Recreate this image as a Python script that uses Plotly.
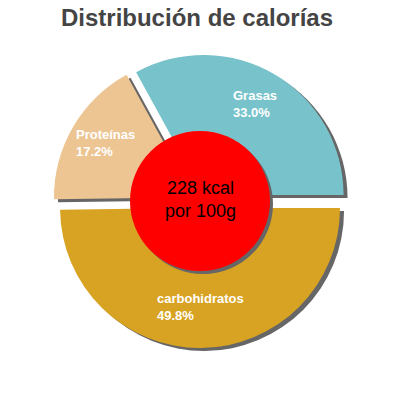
import math
import plotly.graph_objects as go

# data
labels = ["Grasas", "carbohidratos", "Proteínas"]
values = [33.0, 49.8, 17.2]
colors = ["#78c3cb", "#d8a323", "#ecc593"]
kcal = 228

W = 400
H = 400

# pie geometry in pixels
cx, cy = 200, 201
pull = 0.05
radius = 140
half = radius * (1 + pull)
shadow_dx, shadow_dy = 4, 3


def dom(x, y):
    return dict(x=[(x - half) / W, (x + half) / W],
                y=[(H - y - half) / H, (H - y + half) / H])


def px(x, y):
    return x / W, (H - y) / H


total = sum(values)
# start angle so that the first slice ends at 3 o'clock
rot = 90 - values[0] / total * 360

fig = go.Figure()

# shadow pie
fig.add_trace(go.Pie(
    labels=labels, values=values, sort=False, direction="clockwise",
    rotation=rot, hole=0.35, pull=pull, domain=dom(cx + shadow_dx, cy + shadow_dy),
    marker=dict(colors=["#666666"] * len(values), line=dict(width=0)),
    textinfo="none", hoverinfo="skip", showlegend=False,
))

# main pie (inner edge is hidden under the red disc)
fig.add_trace(go.Pie(
    labels=labels, values=values, sort=False, direction="clockwise",
    rotation=rot, hole=0.35, pull=pull, domain=dom(cx, cy),
    marker=dict(colors=colors, line=dict(width=0)),
    textinfo="none", showlegend=False,
))

# slice labels, left aligned, placed in the ring at each slice's mid angle
start = rot
for lab, v in zip(labels, values):
    ang = math.radians(start + v / total * 180)
    start += v / total * 360
    ox = cx + pull * radius * math.sin(ang)
    oy = cy - pull * radius * math.cos(ang)
    tx = ox + 102 * math.sin(ang)
    ty = oy - 102 * math.cos(ang) - 3
    x, y = px(tx, ty)
    fig.add_annotation(
        x=x, y=y, xref="paper", yref="paper", showarrow=False,
        text=f"<b>{lab}<br>{v / total * 100:.1f}%</b>", align="left",
        xanchor="center", yanchor="middle",
        font=dict(family="Liberation Sans, Arial", size=13, color="white"),
    )

# red centre disc with its shadow
r = 70
for dx, dy, col in [(3, 3, "#666666"), (0, 0, "#ff0000")]:
    fig.add_shape(type="circle", xref="paper", yref="paper", layer="above",
                  x0=(cx - r + dx) / W, x1=(cx + r + dx) / W,
                  y0=(H - cy - r - dy) / H, y1=(H - cy + r - dy) / H,
                  fillcolor=col, line=dict(width=0))

x, y = px(cx, cy - 2)
fig.add_annotation(
    x=x, y=y, xref="paper", yref="paper",
    text=f"{kcal} kcal<br>por 100g", showarrow=False,
    font=dict(family="Liberation Sans, Arial", size=18, color="black"),
)

fig.update_layout(
    width=W, height=H,
    margin=dict(l=0, r=0, t=0, b=0),
    paper_bgcolor="white",
    title=dict(text="<b>Distribución de calorías</b>", x=197 / W, xanchor="center",
               y=1 - 18 / H, yanchor="middle",
               font=dict(family="Liberation Sans, Arial", size=24, color="#444444")),
)

# drop the browser's default 8px body margin so the figure fills the window
fig.write_html("out.html", config={"displayModeBar": False},
               post_script="document.body.style.margin = '0';")
